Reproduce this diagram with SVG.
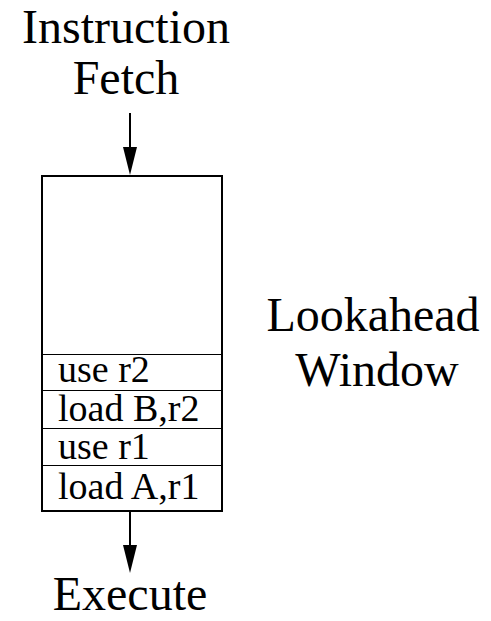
<svg xmlns="http://www.w3.org/2000/svg" width="491" height="621" viewBox="0 0 491 621" font-family="'Liberation Serif', 'DejaVu Serif', serif">
<style>
text { font-family: 'Liberation Serif', 'DejaVu Serif', serif; fill: #000; }
.big { font-size: 48px; text-anchor: middle; }
.row { font-size: 38px; }
.box { fill: #fff; stroke: #000; stroke-width: 2; }
.sep { stroke: #000; stroke-width: 1; }
.arr { stroke: #000; stroke-width: 2; fill: none; }
.head { fill: #000; stroke: none; }
</style>
<rect width="491" height="621" fill="#fff"/>
<g id="fetch"><text class="big" x="126" y="43">Instruction</text><text class="big" x="126" y="94">Fetch</text></g>
<g id="window">
<rect class="box" x="42" y="176" width="180" height="335"/>
<line class="sep" x1="42" y1="354.5" x2="222" y2="354.5"/>
<line class="sep" x1="42" y1="390.5" x2="222" y2="390.5"/>
<line class="sep" x1="42" y1="428.5" x2="222" y2="428.5"/>
<line class="sep" x1="42" y1="465.5" x2="222" y2="465.5"/>
<text class="row" x="58" y="382">use r2</text>
<text class="row" x="58" y="421">load B,r2</text>
<text class="row" x="58" y="459">use r1</text>
<text class="row" x="58" y="499">load A,r1</text>
</g>
<g id="label"><text class="big" x="373" y="331">Lookahead</text><text class="big" x="377" y="386">Window</text></g>
<g id="execute"><text class="big" x="130" y="610">Execute</text></g>
<g id="connectors">
<line class="arr" x1="130" y1="113" x2="130" y2="150"/>
<polygon class="head" points="123,147 137,147 130,175"/>
<line class="arr" x1="130" y1="511" x2="130" y2="548"/>
<polygon class="head" points="123,545 137,545 130,573"/>
</g>
</svg>
